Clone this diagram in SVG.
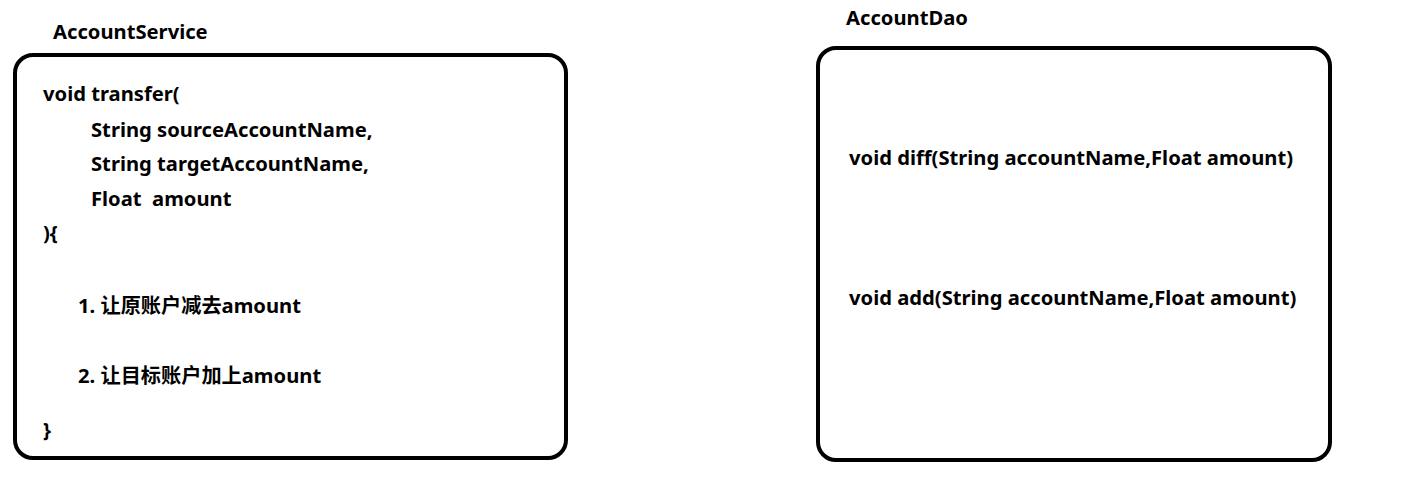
<svg xmlns="http://www.w3.org/2000/svg" width="1408" height="502" viewBox="0 0 1408 502">
<style>
text{font-family:"Noto Sans","Noto Sans CJK SC",sans-serif;font-weight:bold;font-size:20.2px;fill:#000}
.box{fill:#fff;stroke:#000;stroke-width:4}
</style>
<rect width="1408" height="502" fill="#fff"/>
<g id="AccountService">
<text x="53" y="39">AccountService</text>
<rect class="box" x="15" y="55" width="551" height="403" rx="18"/>
<text x="43" y="101">void transfer(</text>
<text x="91" y="137">String sourceAccountName,</text>
<text x="91" y="171">String targetAccountName,</text>
<text x="91" y="206" xml:space="preserve">Float  amount</text>
<text x="43" y="240">){</text>
<text x="78" y="313">1. 让原账户减去amount</text>
<text x="78" y="383">2. 让目标账户加上amount</text>
<text x="43" y="437">}</text>
</g>
<g id="AccountDao">
<text x="846" y="25">AccountDao</text>
<rect class="box" x="818" y="48" width="512" height="412" rx="18"/>
<text x="849" y="165">void diff(String accountName,Float amount)</text>
<text x="849" y="305">void add(String accountName,Float amount)</text>
</g>
<g id="connectors"></g>
</svg>
